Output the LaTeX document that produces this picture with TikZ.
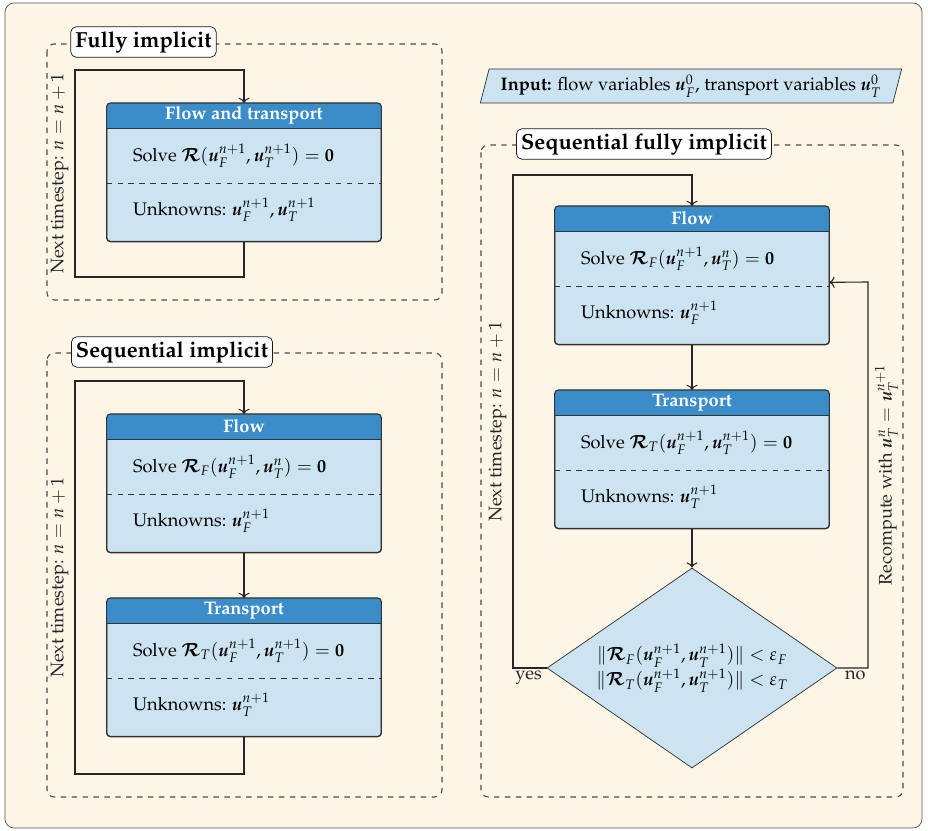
\documentclass[tikz,border=0pt]{standalone}
\usepackage[T1]{fontenc}
\usepackage{mathpazo}
\usepackage{amsmath,bm}
\usepackage{tikz}
\usetikzlibrary{arrows.meta, positioning, shapes.geometric, calc}
\definecolor{paper}{HTML}{FDF6E7}
\definecolor{headblue}{HTML}{3A8DC9}
\definecolor{bodyblue}{HTML}{CCE3F1}
\definecolor{framegray}{HTML}{555555}

\tikzset{
  solver/.style={draw=black!80, fill=bodyblue, rounded corners=2pt,
    minimum width=150.7pt, minimum height=75.9pt, inner sep=0pt},
  headtext/.style={text=white, font=\bfseries, inner sep=0pt},
  parttext/.style={anchor=west, inner sep=0pt},
  grouptitle/.style={draw=black!90, fill=white, rounded corners=3pt,
    font=\large\bfseries, inner sep=2.5pt},
  groupframe/.style={draw=black!70, line width=0.6pt, dashed, rounded corners=4pt},
  decision/.style={diamond, aspect=1.5, draw=black!80, fill=bodyblue,
    minimum width=159.5pt, minimum height=110pt, inner sep=1pt, align=center},
  inputbox/.style={trapezium, trapezium left angle=74, trapezium right angle=106,
    trapezium stretches=true, draw=black!80, fill=bodyblue,
    minimum width=232pt, minimum height=18.7pt, inner sep=2pt},
  link/.style={->, semithick, black!85},
  looplabel/.style={sloped, midway, above},
}

% solver box: name, north point, title, solve text, unknowns text
\newcommand{\solverbox}[5]{%
  \node[solver, anchor=north] (#1) at (#2) {};
  \begin{scope}
    \clip[rounded corners=2pt] (#1.south west) rectangle (#1.north east);
    \fill[headblue] (#1.north west) rectangle ($(#1.north east)+(0,25)$);
  \end{scope}
  \draw[black!80, semithick, rounded corners=2pt] (#1.south west) rectangle (#1.north east);
  \draw[black!80] ($(#1.north west)+(0,25)$) -- ($(#1.north east)+(0,25)$);
  \draw[black!80, dashed] ($(#1.north west)+(0,80)$) -- ($(#1.north east)+(0,80)$);
  \node[headtext] (#1-head) at ($(#1.north)+(0,12.5)$) {#3};
  \node[parttext] (#1-solve) at ($(#1.north west)+(26,53)$) {#4};
  \node[parttext] (#1-unk) at ($(#1.north west)+(26,107)$) {#5};
}

\begin{document}
\begin{tikzpicture}[x=0.55pt, y=-0.55pt]
  \useasboundingbox (0,0) rectangle (928,831);
  \draw[framegray, fill=paper, rounded corners=5pt] (5,3) rectangle (922,828);

  % Fully implicit
  \draw[groupframe] (47,44) rectangle (442,300);
  \node[grouptitle] (fiTitle) at (143.5,42) {Fully implicit};
  \solverbox{fi}{244,103}{Flow and transport}
    {Solve $\bm{\mathcal{R}}(\bm{u}_F^{n+1}, \bm{u}_T^{n+1}) = \mathbf{0}$}
    {Unknowns: $\bm{u}_F^{n+1}, \bm{u}_T^{n+1}$}
  \draw[link] (fi.south) |- (75,277) -- node[looplabel] (fiNext) {Next timestep: $n = n + 1$} (75,70) -| (fi.north);

  % Sequential implicit
  \draw[groupframe] (47,353) rectangle (442,797);
  \node[grouptitle] (siTitle) at (172,352) {Sequential implicit};
  \solverbox{siFlow}{244,414}{Flow}
    {Solve $\bm{\mathcal{R}}_F(\bm{u}_F^{n+1}, \bm{u}_T^{n}) = \mathbf{0}$}
    {Unknowns: $\bm{u}_F^{n+1}$}
  \solverbox{siTrans}{244,598}{Transport}
    {Solve $\bm{\mathcal{R}}_T(\bm{u}_F^{n+1}, \bm{u}_T^{n+1}) = \mathbf{0}$}
    {Unknowns: $\bm{u}_T^{n+1}$}
  \draw[link] (siFlow) -- (siTrans);
  \draw[link] (siTrans.south) |- (75,774) -- node[looplabel] (siNext) {Next timestep: $n = n + 1$} (75,381) -| (siFlow.north);

  % Input
  \node[inputbox] (input) at (691,86) {\textbf{Input:} flow variables $\bm{u}_F^0$, transport variables $\bm{u}_T^0$};

  % Sequential fully implicit
  \draw[groupframe] (481,145) rectangle (903,797);
  \node[grouptitle] (sfiTitle) at (644,144) {Sequential fully implicit};
  \solverbox{sfiFlow}{692,206}{Flow}
    {Solve $\bm{\mathcal{R}}_F(\bm{u}_F^{n+1}, \bm{u}_T^{n}) = \mathbf{0}$}
    {Unknowns: $\bm{u}_F^{n+1}$}
  \solverbox{sfiTrans}{692,390}{Transport}
    {Solve $\bm{\mathcal{R}}_T(\bm{u}_F^{n+1}, \bm{u}_T^{n+1}) = \mathbf{0}$}
    {Unknowns: $\bm{u}_T^{n+1}$}
  \node[decision] (check) at (692,668)
    {$\|\bm{\mathcal{R}}_F(\bm{u}_F^{n+1}, \bm{u}_T^{n+1})\| < \varepsilon_F$\\
     $\|\bm{\mathcal{R}}_T(\bm{u}_F^{n+1}, \bm{u}_T^{n+1})\| < \varepsilon_T$};
  \draw[link] (sfiFlow) -- (sfiTrans);
  \draw[link] (sfiTrans) -- (check);
  \draw[link] (check.west) -- (513,668) node[anchor=north west, inner sep=1pt] (yes) {yes}
    -- node[looplabel] (sfiNext) {Next timestep: $n = n + 1$} (513,175) -| (sfiFlow.north);
  \draw[link] (check.east) -- (868,668) node[anchor=north east, inner sep=1pt] (no) {no}
    -- node[sloped, midway, below] (recompute) {Recompute with $\bm{u}_T^{n} = \bm{u}_T^{n+1}$} (868,282)
    -- ($(sfiFlow.east)+(0,7)$);
\end{tikzpicture}
\end{document}
